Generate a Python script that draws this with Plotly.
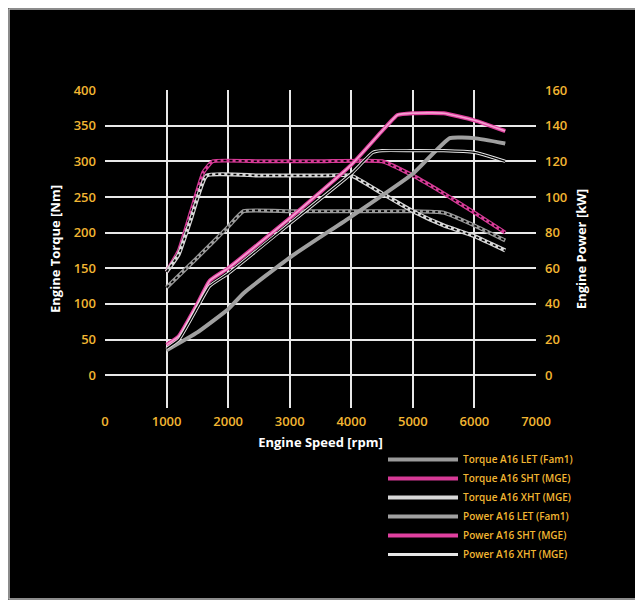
import plotly.graph_objects as go

# engine speed [rpm]
rpm_sht_t = [1000, 1200, 1400, 1600, 1750, 2500, 3500, 4500, 5000, 5500, 6000, 6500]
torque_sht = [145, 175, 230, 285, 300, 300, 300, 300, 280, 255, 228, 200]
rpm_xht_t = [1000, 1200, 1400, 1650, 2500, 3500, 4000, 4500, 5000, 5500, 6000, 6500]
torque_xht = [145, 170, 220, 280, 280, 280, 280, 255, 230, 210, 195, 175]
rpm_let_t = [1000, 1500, 2000, 2250, 3000, 4000, 5000, 5500, 6000, 6500]
torque_let = [123, 165, 208, 230, 230, 230, 230, 228, 210, 189]

rpm_sht_p = [1000, 1200, 1500, 1700, 2000, 3000, 4000, 4500, 4750, 5000, 5500, 6000, 6500]
power_sht = [17, 22, 40, 53, 60, 88, 118, 137, 146, 147, 147, 143, 137]
rpm_xht_p = [1000, 1200, 1500, 1700, 2000, 3000, 4000, 4350, 4500, 5000, 5500, 6000, 6500]
power_xht = [15, 20, 38, 50, 57, 85, 113, 125, 126, 126, 126, 125, 120]
rpm_let_p = [1000, 1500, 2000, 2250, 3000, 4000, 5000, 5600, 6000, 6500]
power_let = [14, 24, 37, 46, 66, 89, 113, 133, 133, 130]

torque_ticks = [0, 50, 100, 150, 200, 250, 300, 350, 400]
power_ticks = [0, 20, 40, 60, 80, 100, 120, 140, 160]
speed_ticks = [0, 1000, 2000, 3000, 4000, 5000, 6000, 7000]

ORANGE = '#f2b632'
W, H = 635, 592
L, R, T, B = 97, 107, 82, 192

fig = go.Figure()


def add_pair(x, y, outer, inner, name, dash, axis='y', w_out=4, w_in=1.6):
    fig.add_trace(go.Scatter(x=x, y=y, mode='lines', name=name, yaxis=axis,
                             line=dict(color=outer, width=w_out, shape='spline', smoothing=0.4)))
    fig.add_trace(go.Scatter(x=x, y=y, mode='lines', showlegend=False, yaxis=axis, hoverinfo='skip',
                             line=dict(color=inner, width=w_in, dash=dash, shape='spline', smoothing=0.4)))


add_pair(rpm_let_t, torque_let, '#9a9a9a', '#000000', 'Torque A16 LET (Fam1)', 'dot')
add_pair(rpm_sht_t, torque_sht, '#d63a96', '#000000', 'Torque A16 SHT (MGE)', 'dot')
add_pair(rpm_xht_t, torque_xht, '#d8d8d8', '#000000', 'Torque A16 XHT (MGE)', 'dot')
add_pair(rpm_let_p, power_let, '#a0a0a0', '#a0a0a0', 'Power A16 LET (Fam1)', 'solid', 'y2')
add_pair(rpm_sht_p, power_sht, '#e0409f', '#f4a0d0', 'Power A16 SHT (MGE)', 'solid', 'y2')
add_pair(rpm_xht_p, power_xht, '#e6e6e6', '#000000', 'Power A16 XHT (MGE)', 'solid', 'y2', 3.2, 1.4)

axis_common = dict(showgrid=True, gridcolor='#e8e8e8', gridwidth=1.5, zeroline=False,
                   tickfont=dict(color=ORANGE, size=13, weight=600), ticks='', showline=False,
                   automargin=False)

fig.update_layout(
    width=W, height=H,
    paper_bgcolor='black', plot_bgcolor='black',
    font=dict(family='Open Sans', color='white', size=13),
    margin=dict(l=L, r=R, t=T, b=B),
    xaxis=dict(axis_common, range=[0, 7000], tickvals=speed_ticks, tickformat='d', ticklabelstandoff=4,
               title=dict(text='<b>Engine Speed [rpm]</b>', font=dict(size=13, color='white'), standoff=8)),
    yaxis=dict(axis_common, range=[-46, 400], tickvals=torque_ticks, ticklabelstandoff=8,
               title=dict(text='<b>Engine Torque [Nm]</b>', font=dict(size=13, color='white'), standoff=10)),
    yaxis2=dict(axis_common, range=[-18.4, 160], tickvals=power_ticks, overlaying='y', side='right',
                showgrid=False, ticklabelstandoff=8,
                title=dict(text='<b>Engine Power [kW]</b>', font=dict(size=13, color='white'), standoff=10)),
    legend=dict(x=(375 - L) / (W - L - R), y=-(437 - (H - B)) / (H - T - B),
                xanchor='left', yanchor='top', bgcolor='rgba(0,0,0,0)',
                font=dict(color=ORANGE, size=10, weight=600), itemwidth=70, tracegroupgap=0),
    showlegend=True,
)

pw, ph = W - L - R, H - T - B
fig.add_shape(type='rect', xref='paper', yref='paper',
              x0=-(L - 1) / pw, x1=1 + (R - 1) / pw, y0=-(B - 1) / ph, y1=1 + (T - 1) / ph,
              line=dict(color='#bbbbbb', width=1.5))

fig.write_html("out.html")
